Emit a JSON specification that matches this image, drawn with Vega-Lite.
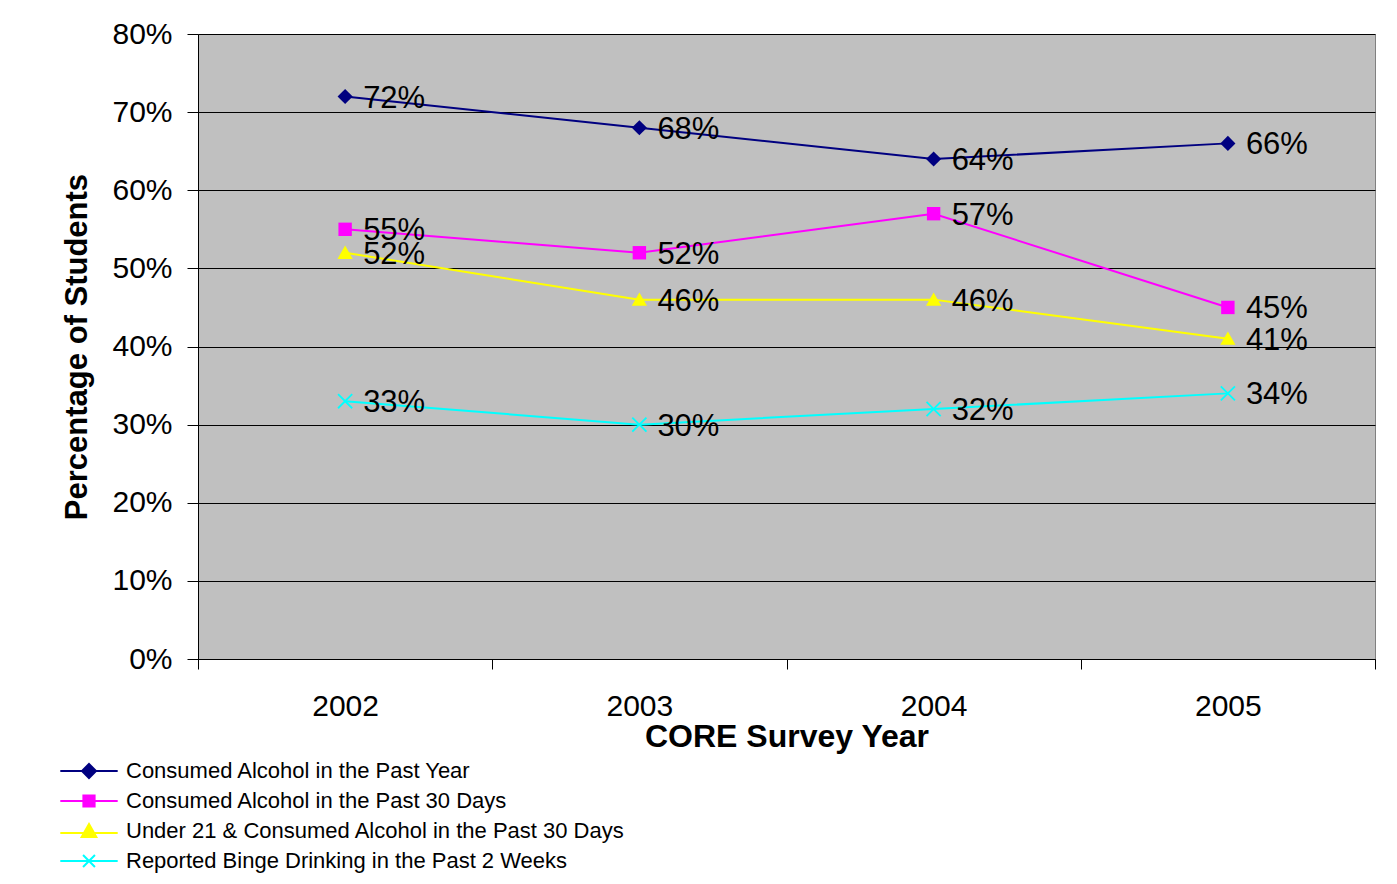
{
  "$schema": "https://vega.github.io/schema/vega-lite/v6.json",
  "width": 1177,
  "height": 625,
  "autosize": {"type": "none"},
  "padding": {"left": 198, "top": 34, "right": 22, "bottom": 225},
  "background": "white",
  "config": {
    "font": "Liberation Sans",
    "view": {"fill": "#C0C0C0", "stroke": "#808080", "strokeWidth": 1}
  },
  "data": {
    "values": [
      {"year": "2002", "series": "Consumed Alcohol in the Past Year", "value": 0.72},
      {"year": "2003", "series": "Consumed Alcohol in the Past Year", "value": 0.68},
      {"year": "2004", "series": "Consumed Alcohol in the Past Year", "value": 0.64},
      {"year": "2005", "series": "Consumed Alcohol in the Past Year", "value": 0.66},
      {"year": "2002", "series": "Consumed Alcohol in the Past 30 Days", "value": 0.55},
      {"year": "2003", "series": "Consumed Alcohol in the Past 30 Days", "value": 0.52},
      {"year": "2004", "series": "Consumed Alcohol in the Past 30 Days", "value": 0.57},
      {"year": "2005", "series": "Consumed Alcohol in the Past 30 Days", "value": 0.45},
      {"year": "2002", "series": "Under 21 & Consumed Alcohol in the Past 30 Days", "value": 0.52},
      {"year": "2003", "series": "Under 21 & Consumed Alcohol in the Past 30 Days", "value": 0.46},
      {"year": "2004", "series": "Under 21 & Consumed Alcohol in the Past 30 Days", "value": 0.46},
      {"year": "2005", "series": "Under 21 & Consumed Alcohol in the Past 30 Days", "value": 0.41},
      {"year": "2002", "series": "Reported Binge Drinking in the Past 2 Weeks", "value": 0.33},
      {"year": "2003", "series": "Reported Binge Drinking in the Past 2 Weeks", "value": 0.30},
      {"year": "2004", "series": "Reported Binge Drinking in the Past 2 Weeks", "value": 0.32},
      {"year": "2005", "series": "Reported Binge Drinking in the Past 2 Weeks", "value": 0.34}
    ]
  },
  "encoding": {
    "x": {
      "field": "year", "type": "ordinal",
      "scale": {"type": "band", "paddingInner": 0, "paddingOuter": 0},
      "axis": {
        "title": "CORE Survey Year",
        "titleFontSize": 32, "titleFontWeight": "bold", "titleColor": "black", "titlePadding": 0,
        "labelFontSize": 30, "labelColor": "black", "labelAngle": 0, "labelPadding": 22,
        "tickBand": "extent", "tickSize": 10, "tickColor": "black", "domainColor": "black",
        "grid": false
      }
    },
    "y": {
      "field": "value", "type": "quantitative",
      "scale": {"domain": [0, 0.8], "nice": false},
      "axis": {
        "title": "Percentage of Students",
        "titleFontSize": 31, "titleFontWeight": "bold", "titleColor": "black", "titlePadding": 18,
        "values": [0, 0.1, 0.2, 0.3, 0.4, 0.5, 0.6, 0.7, 0.8],
        "format": ".0%",
        "labelFontSize": 30, "labelColor": "black", "labelPadding": 15,
        "tickSize": 11, "tickColor": "black", "domainColor": "black",
        "grid": true, "gridColor": "black", "gridWidth": 1, "gridOpacity": 1
      }
    }
  },
  "layer": [
    {
      "mark": {"type": "line", "strokeWidth": 2},
      "encoding": {
        "color": {
          "field": "series", "type": "nominal",
          "scale": {
            "domain": ["Consumed Alcohol in the Past Year", "Consumed Alcohol in the Past 30 Days", "Under 21 & Consumed Alcohol in the Past 30 Days", "Reported Binge Drinking in the Past 2 Weeks"],
            "range": ["#000080", "#FF00FF", "#FFFF00", "#00FFFF"]
          },
          "legend": {
            "orient": "none", "legendX": -120, "legendY": 726,
            "title": null, "direction": "vertical", "padding": 0,
            "labelFontSize": 22, "labelColor": "black", "labelOffset": 26, "labelLimit": 0,
            "rowPadding": 8, "symbolSize": 196, "symbolStrokeWidth": 2,
            "encode": {
              "symbols": {
                "update": {
                  "shape": {"signal": "indexof(datum.value,'Year')>=0 ? 'M-4.1,0L4.1,0M0,-1L1,0L0,1L-1,0Z' : indexof(datum.value,'Under')>=0 ? 'M-4.1,0.3L4.1,0.3M0,-1L1.05,0.85L-1.05,0.85Z' : indexof(datum.value,'Binge')>=0 ? 'M-4.1,0L4.1,0M-0.85,-0.85L0.85,0.85M-0.85,0.85L0.85,-0.85' : 'M-4.1,0L4.1,0M-0.8,-0.8L0.8,-0.8L0.8,0.8L-0.8,0.8Z'"},
                  "fill": {"signal": "scale('color', datum.value)"},
                  "stroke": {"signal": "scale('color', datum.value)"},
                  "strokeWidth": {"value": 2},
                  "opacity": {"value": 1},
                  "fillOpacity": {"value": 1},
                  "strokeOpacity": {"value": 1}
                }
              }
            }
          }
        }
      }
    },
    {
      "transform": [{"filter": "datum.series === 'Consumed Alcohol in the Past Year'"}],
      "mark": {"type": "point", "shape": "diamond", "filled": true, "size": 230, "opacity": 1, "color": "#000080"}
    },
    {
      "transform": [{"filter": "datum.series === 'Consumed Alcohol in the Past 30 Days'"}],
      "mark": {"type": "point", "shape": "square", "filled": true, "size": 180, "opacity": 1, "color": "#FF00FF"}
    },
    {
      "transform": [{"filter": "datum.series === 'Under 21 & Consumed Alcohol in the Past 30 Days'"}],
      "mark": {"type": "point", "shape": "M0,-1L1.05,0.85L-1.05,0.85Z", "filled": true, "size": 210, "opacity": 1, "color": "#FFFF00"}
    },
    {
      "transform": [{"filter": "datum.series === 'Reported Binge Drinking in the Past 2 Weeks'"}],
      "mark": {"type": "point", "shape": "M-1,-1L1,1M-1,1L1,-1", "filled": false, "size": 200, "opacity": 1, "strokeWidth": 1.8, "color": "#00FFFF"}
    },
    {
      "mark": {"type": "text", "align": "left", "baseline": "middle", "dx": 18, "dy": 2, "fontSize": 31, "color": "black"},
      "encoding": {
        "text": {"field": "value", "type": "quantitative", "format": ".0%"}
      }
    }
  ]
}
